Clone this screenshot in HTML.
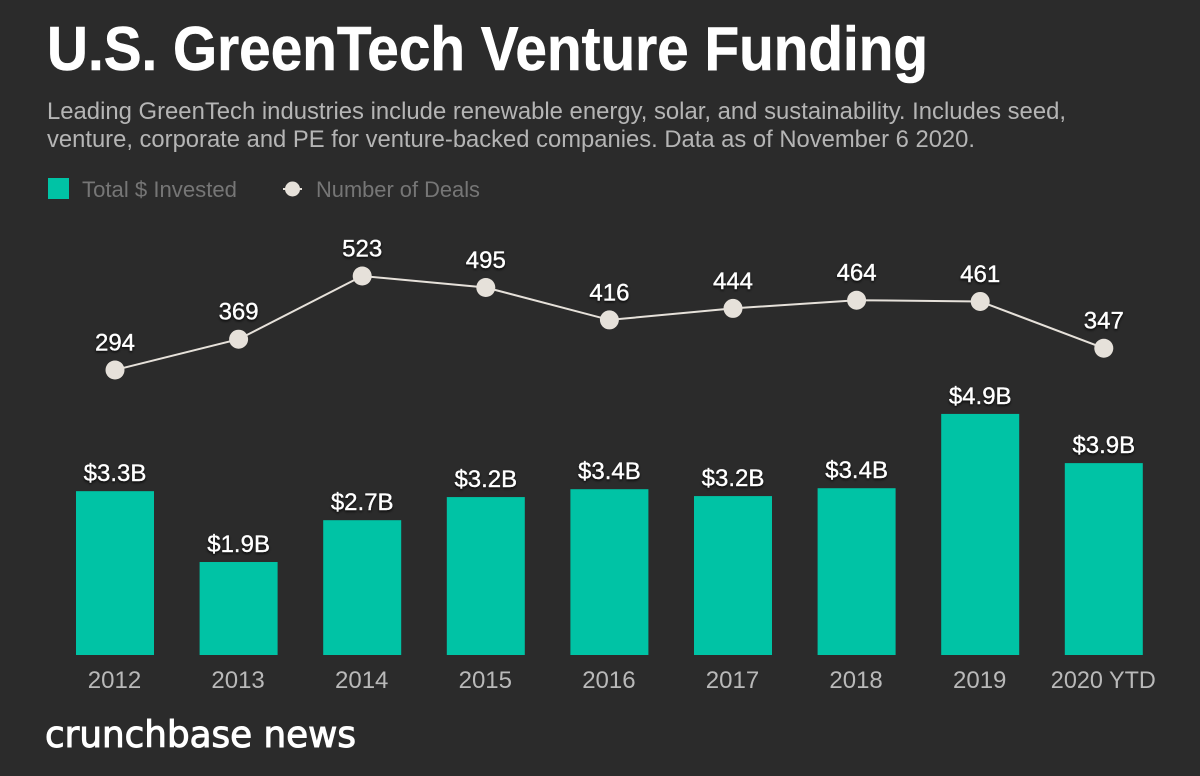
<!DOCTYPE html>
<html lang="en">
<head>
<meta charset="utf-8">
<title>U.S. GreenTech Venture Funding</title>
<style>
html,body{margin:0;padding:0;background:#2b2b2b;}
svg{display:block;font-family:"Liberation Sans",sans-serif;}
.val{fill:#fff;stroke:#fff;stroke-width:0.3;font-size:24px;text-anchor:middle;filter:url(#label-shadow);}
.tick{fill:#b9b9b9;font-size:24px;text-anchor:middle;}
</style>
</head>
<body>
<svg id="chart" xmlns="http://www.w3.org/2000/svg" width="1200" height="776" viewBox="0 0 1200 776">
  <defs>
    <filter id="label-shadow" x="-20%" y="-30%" width="140%" height="170%">
      <feDropShadow dx="0" dy="1.5" stdDeviation="1.2" flood-color="#000" flood-opacity="0.85"/>
    </filter>
  </defs>
  <rect x="0" y="0" width="1200" height="776" fill="#2b2b2b"/>
  <text x="47" y="70" font-size="62" font-weight="700" fill="#fff" stroke="#fff" stroke-width="0.6" textLength="881" lengthAdjust="spacingAndGlyphs">U.S. GreenTech Venture Funding</text>
  <text x="47" y="119" font-size="24" fill="#b5b5b5" textLength="1019" lengthAdjust="spacingAndGlyphs">Leading GreenTech industries include renewable energy, solar, and sustainability. Includes seed,</text>
  <text x="47" y="147" font-size="24" fill="#b5b5b5" textLength="928" lengthAdjust="spacingAndGlyphs">venture, corporate and PE for venture-backed companies. Data as of November 6 2020.</text>

  <g>
    <rect x="48" y="178" width="21" height="21" fill="#00c3a5"/>
    <text x="82" y="197" font-size="22" fill="#767676" textLength="155" lengthAdjust="spacingAndGlyphs">Total $ Invested</text>
    <line x1="283" y1="189" x2="302" y2="189" stroke="#e6e1da" stroke-width="2"/>
    <circle cx="292.500" cy="189" r="7.500" fill="#e6e1da"/>
    <text x="316" y="197" font-size="22" fill="#767676" textLength="164" lengthAdjust="spacingAndGlyphs">Number of Deals</text>
  </g>

  <g id="bars"></g>
  <g id="bar-values"></g>
  <g id="x-axis"></g>
  <g id="deals"></g>
  <g id="deal-values"></g>

  <text x="45" y="747" font-size="36.5" fill="#fff" stroke="#fff" stroke-width="1" style="font-family:'DejaVu Sans',sans-serif" textLength="311" lengthAdjust="spacingAndGlyphs">crunchbase news</text>
</svg>
<script>
const categories = ["2012", "2013", "2014", "2015", "2016", "2017", "2018", "2019", "2020 YTD"];
const investedBillions = [3.33, 1.89, 2.74, 3.21, 3.37, 3.23, 3.39, 4.9, 3.9];
const dealCounts = [294, 369, 523, 495, 416, 444, 464, 461, 347];

const NS = "http://www.w3.org/2000/svg";

function xCenter(i) {
  return 115 + i * 123.6;
}
function yBar(v) {
  return 655 - v * 49.2;
}
function yDeal(v) {
  return 370 - (v - 294) * 0.4105;
}
function make(tag, parentId) {
  const el = document.createElementNS(NS, tag);
  document.getElementById(parentId).appendChild(el);
  return el;
}

const barWidth = 78;
const linePoints = dealCounts.map((v, i) => xCenter(i) + "," + yDeal(v)).join(" ");

const dealLine = make("polyline", "deals");


dealLine.setAttribute("points", linePoints);
dealLine.setAttribute("fill", "none");
dealLine.setAttribute("stroke", "#e6e1da");
dealLine.setAttribute("stroke-width", "2");

categories.forEach((cat, i) => {
  const cx = xCenter(i);

  const bar = make("rect", "bars");
  
  
  bar.setAttribute("x", cx - barWidth / 2);
  bar.setAttribute("y", yBar(investedBillions[i]));
  bar.setAttribute("width", barWidth);
  bar.setAttribute("height", 655 - yBar(investedBillions[i]));
  bar.setAttribute("fill", "#00c3a5");

  const barLabel = make("text", "bar-values");
  
  
  barLabel.setAttribute("class", "val");
  barLabel.setAttribute("x", cx);
  barLabel.setAttribute("y", yBar(investedBillions[i]) - 10);
  barLabel.textContent = "$" + investedBillions[i].toFixed(1) + "B";

  const tick = make("text", "x-axis");
  
  
  tick.setAttribute("class", "tick");
  tick.setAttribute("x", cx - 0.5);
  tick.setAttribute("y", 688);
  if (cat.length > 4) {
    tick.setAttribute("textLength", "105");
    tick.setAttribute("lengthAdjust", "spacingAndGlyphs");
  }
  tick.textContent = cat;

  const dot = make("circle", "deals");
  
  
  dot.setAttribute("cx", cx);
  dot.setAttribute("cy", yDeal(dealCounts[i]));
  dot.setAttribute("r", "9.5");
  dot.setAttribute("fill", "#e6e1da");

  const dealLabel = make("text", "deal-values");
  
  
  dealLabel.setAttribute("class", "val");
  dealLabel.setAttribute("x", cx);
  dealLabel.setAttribute("y", yDeal(dealCounts[i]) - 19.5);
  dealLabel.textContent = dealCounts[i];
});
</script>
</body>
</html>
